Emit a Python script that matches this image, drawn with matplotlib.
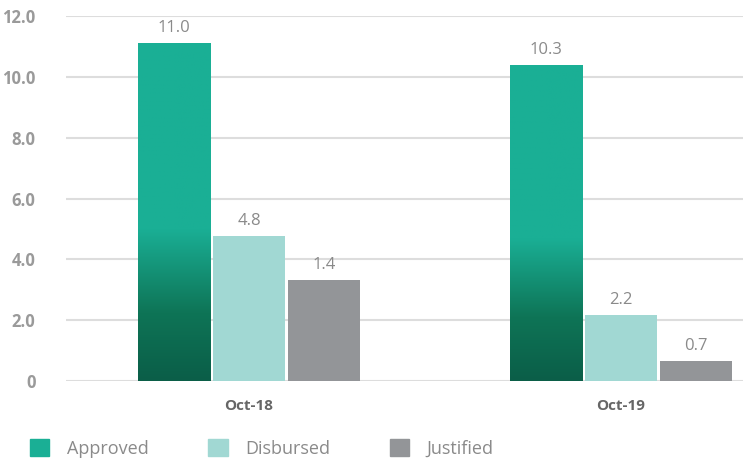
import matplotlib
matplotlib.use("Agg")
import matplotlib.pyplot as plt
import numpy as np
from matplotlib.colors import LinearSegmentedColormap
from matplotlib.patches import Patch

plt.rcParams['font.family'] = ['Open Sans', 'DejaVu Sans']

categories = ['Oct-18', 'Oct-19']
series = ['Approved', 'Disbursed', 'Justified']
# bar heights as drawn in the picture
heights = {
    'Approved': [11.1, 10.4],
    'Disbursed': [4.77, 2.17],
    'Justified': [3.32, 0.66],
}
# values printed above the bars
labels = {
    'Approved': ['11.0', '10.3'],
    'Disbursed': ['4.8', '2.2'],
    'Justified': ['1.4', '0.7'],
}
yticks = [0, 2, 4, 6, 8, 10, 12]
ytick_labels = ['0', '2.0', '4.0', '6.0', '8.0', '10.0', '12.0']

colors = {'Approved': '#1aaf95', 'Disbursed': '#a1d8d3', 'Justified': '#939598'}
green_grad = LinearSegmentedColormap.from_list(
    'grad', [(0.0, '#0b5e48'), (0.2, '#0e7456'), (0.45, '#1aaf95'), (1.0, '#1aaf95')])


def gradient_fill(ax, bar):
    """ Paint a vertical green gradient inside a bar. """
    x0, y0 = bar.get_x(), bar.get_y()
    w, h = bar.get_width(), bar.get_height()
    grad = np.linspace(0, 1, 256).reshape(-1, 1)
    img = ax.imshow(grad, cmap=green_grad, origin='lower', aspect='auto',
                    extent=(x0, x0 + w, y0, y0 + h), zorder=3)
    img.set_clip_path(bar)


def main():
    fig = plt.figure(figsize=(7.43, 4.58), dpi=100)
    ax = fig.add_axes([66 / 743, 77 / 458, 1 - 66 / 743, 365 / 458])

    x = np.arange(len(categories))
    width = 0.196
    step = 0.2016
    for i, name in enumerate(series):
        pos = x + (i - 1) * step
        bars = ax.bar(pos, heights[name], width, color=colors[name], zorder=3)
        if name == 'Approved':
            for b in bars:
                gradient_fill(ax, b)
        for b, lab in zip(bars, labels[name]):
            ax.annotate(lab, (b.get_x() + b.get_width() / 2, b.get_height()),
                        xytext=(0, 5), textcoords='offset points',
                        ha='center', va='bottom', fontsize=12,
                        color='#8a8a8a', zorder=4)

    ax.set_xlim(-0.492, 1.328)
    ax.set_ylim(0, 12)
    ax.set_yticks(yticks)
    ax.set_yticklabels(ytick_labels, fontsize=12, fontweight='bold', color='#9a9a9a')
    ax.set_xticks(x)
    ax.set_xticklabels(categories, fontsize=11, fontweight='bold', color='#666666')
    ax.tick_params(length=0)
    ax.tick_params(axis='y', pad=22)
    ax.tick_params(axis='x', pad=13)
    ax.grid(axis='y', color='#dddddd', linewidth=1.5, zorder=0)
    ax.set_axisbelow(True)
    for s in ax.spines.values():
        s.set_visible(False)

    handles = [Patch(color=colors[n]) for n in series]
    fig.legend(handles, series, loc='lower left', bbox_to_anchor=(0.018, -0.035),
               ncol=3, frameon=False, fontsize=13, handlelength=1.1,
               handleheight=1.1, columnspacing=3.3, handletextpad=0.95,
               labelcolor='#8a8a8a')

    fig.savefig('out.png', dpi=100)


if __name__ == "__main__":
    main()
